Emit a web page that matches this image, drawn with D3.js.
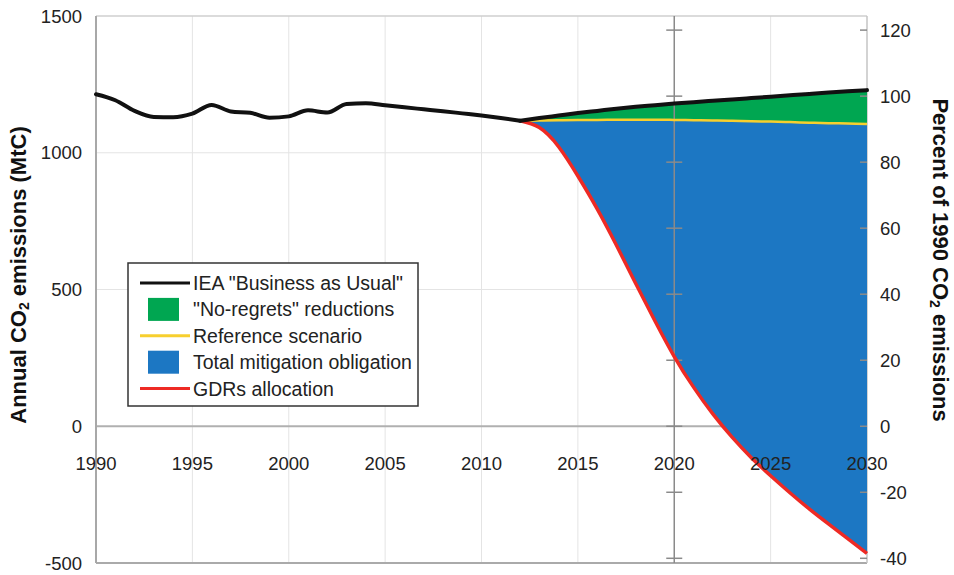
<!DOCTYPE html>
<html>
<head>
<meta charset="utf-8">
<script src="https://cdn.jsdelivr.net/npm/d3@7"></script>
<style>
  html, body { margin: 0; padding: 0; background: #fff; }
  svg { display: block; font-family: "Liberation Sans", Arial, Helvetica, sans-serif; }
</style>
</head>
<body>
<svg id="chart" width="954" height="575"></svg>
<script>
// ---- Data ----
const histYears = d3.range(1990, 2031);               // 1990..2030
const bauValues = [1214, 1192, 1153, 1131, 1130, 1143, 1175, 1151, 1146, 1128, 1133, 1155, 1147, 1178, 1181, 1174,
                   1166, 1159, 1152, 1144, 1136, 1127, 1117,
                   1127, 1136, 1145, 1153, 1161, 1168, 1174, 1180, 1185, 1190, 1195, 1200, 1205, 1210, 1215, 1220, 1225, 1229];
const projYears = d3.range(2012, 2031);                // 2012..2030
const referenceValues = [1117, 1118, 1119, 1120, 1120, 1121, 1121, 1121, 1120, 1119, 1118, 1117, 1115, 1114, 1112, 1110, 1108, 1107, 1105];
const gdrValues = [1117, 1092, 1022, 915, 795, 662, 522, 385, 255, 143, 45, -40, -115, -181, -243, -302, -357, -411, -465];
const pctBase = 1207;                                  // 100% of 1990 emissions (MtC)
const xTicks = [1990, 1995, 2000, 2005, 2010, 2015, 2020, 2025, 2030];
const yTicks = [-500, 0, 500, 1000, 1500];
const pctTicks = [-40, -20, 0, 20, 40, 60, 80, 100, 120];
const legendItems = [
  {label: 'IEA "Business as Usual"', type: "line", color: "#111"},
  {label: '"No-regrets" reductions', type: "box", color: "#00A651"},
  {label: "Reference scenario", type: "line", color: "#F7CF2E"},
  {label: "Total mitigation obligation", type: "box", color: "#1C77C3"},
  {label: "GDRs allocation", type: "line", color: "#EE2A24"}
];

// ---- Layout ----
const W = 954, H = 575;
const m = {left: 96, right: 87, top: 16, bottom: 12};
const x = d3.scaleLinear().domain([1990, 2030]).range([m.left, W - m.right]);
const y = d3.scaleLinear().domain([-500, 1500]).range([H - m.bottom, m.top]);
const yPct = d3.scaleLinear().domain([-500 / pctBase * 100, 1500 / pctBase * 100]).range([H - m.bottom, m.top]);

const svg = d3.select("#chart");
const textColor = "#222";

// gridlines
const g = svg.append("g");
g.selectAll("line.vg").data(xTicks.filter(d => d > 1990 && d < 2030 && d !== 2020)).enter()
  .append("line").attr("x1", d => x(d)).attr("x2", d => x(d))
  .attr("y1", y(1500)).attr("y2", y(-500)).attr("stroke", "#e4e4e4").attr("stroke-width", 1);
g.selectAll("line.hg").data([500, 1000]).enter()
  .append("line").attr("x1", x(1990)).attr("x2", x(2030))
  .attr("y1", d => y(d)).attr("y2", d => y(d)).attr("stroke", "#e4e4e4").attr("stroke-width", 1);
g.append("line").attr("x1", x(1990)).attr("x2", x(2030)).attr("y1", y(0)).attr("y2", y(0))
  .attr("stroke", "#b0b0b0").attr("stroke-width", 2);
// frame
g.append("line").attr("x1", x(1990)).attr("x2", x(2030)).attr("y1", y(1500)).attr("y2", y(1500)).attr("stroke", "#cfcfcf").attr("stroke-width", 1.5);
g.append("line").attr("x1", x(1990)).attr("x2", x(2030)).attr("y1", y(-500)).attr("y2", y(-500)).attr("stroke", "#aaa").attr("stroke-width", 2);
g.append("line").attr("x1", x(2030)).attr("x2", x(2030)).attr("y1", y(1500)).attr("y2", y(-500)).attr("stroke", "#c4c4c4").attr("stroke-width", 1.5);

// ---- Areas ----
const proj = projYears.map((yr, i) => ({year: yr, bau: bauValues[histYears.indexOf(yr)], ref: referenceValues[i], gdr: gdrValues[i]}));
const hist = histYears.filter(yr => yr <= 2012).map(yr => ({year: yr, v: bauValues[histYears.indexOf(yr)]}));
const curveP = d3.curveNatural;
svg.append("path").datum(proj)
  .attr("d", d3.area().curve(curveP).x(d => x(d.year)).y0(d => y(d.ref)).y1(d => y(d.bau)))
  .attr("fill", "#00A651");
svg.append("path").datum(proj)
  .attr("d", d3.area().curve(curveP).x(d => x(d.year)).y0(d => y(d.gdr)).y1(d => y(d.ref)))
  .attr("fill", "#1C77C3");

// left axis line (drawn after fills)
svg.append("line").attr("x1", x(1990)).attr("x2", x(1990)).attr("y1", y(1500)).attr("y2", y(-500)).attr("stroke", "#a8a8a8").attr("stroke-width", 2);

// duplicate axis at 2020 with cross ticks
svg.append("line").attr("x1", x(2020)).attr("x2", x(2020)).attr("y1", y(1500)).attr("y2", y(-500)).attr("stroke", "#8a8a8a").attr("stroke-width", 1.5);
svg.selectAll("line.ct").data(pctTicks).enter().append("line")
  .attr("x1", x(2020) - 8).attr("x2", x(2020) + 8)
  .attr("y1", d => yPct(d)).attr("y2", d => yPct(d))
  .attr("stroke", "#8a8a8a").attr("stroke-width", 1.5);
// right-edge inside ticks
svg.selectAll("line.rt").data(pctTicks).enter().append("line")
  .attr("x1", x(2030) - 7).attr("x2", x(2030))
  .attr("y1", d => yPct(d)).attr("y2", d => yPct(d))
  .attr("stroke", "#8a8a8a").attr("stroke-width", 1.5);

// ---- Lines ----
svg.append("path").datum(proj)
  .attr("d", d3.line().curve(curveP).x(d => x(d.year)).y(d => y(d.ref)))
  .attr("fill", "none").attr("stroke", "#F7CF2E").attr("stroke-width", 2.5);
svg.append("path").datum(proj)
  .attr("d", d3.line().curve(curveP).x(d => x(d.year)).y(d => y(d.gdr)))
  .attr("fill", "none").attr("stroke", "#EE2A24").attr("stroke-width", 3.5);
svg.append("path").datum(hist)
  .attr("d", d3.line().curve(d3.curveMonotoneX).x(d => x(d.year)).y(d => y(d.v)))
  .attr("fill", "none").attr("stroke", "#111").attr("stroke-width", 4).attr("stroke-linejoin", "round").attr("stroke-linecap", "round");
svg.append("path").datum(proj)
  .attr("d", d3.line().curve(curveP).x(d => x(d.year)).y(d => y(d.bau)))
  .attr("fill", "none").attr("stroke", "#111").attr("stroke-width", 4).attr("stroke-linejoin", "round").attr("stroke-linecap", "round");

// ---- Axes labels ----
const fs = 18.5;
svg.append("g").selectAll("text").data(yTicks).enter().append("text")
  .attr("x", 82).attr("y", d => y(d)).attr("text-anchor", "end").attr("dominant-baseline", "central")
  .attr("font-size", fs).attr("fill", textColor).text(d => d);
svg.append("g").selectAll("text").data(pctTicks).enter().append("text")
  .attr("x", 880).attr("y", d => yPct(d)).attr("text-anchor", "start").attr("dominant-baseline", "central")
  .attr("font-size", fs).attr("fill", textColor).text(d => d);
svg.append("g").selectAll("text").data(xTicks).enter().append("text")
  .attr("x", d => x(d)).attr("y", 463).attr("text-anchor", "middle").attr("dominant-baseline", "central")
  .attr("font-size", fs).attr("fill", textColor).text(d => d);

// axis titles
const lt = svg.append("text").attr("transform", "translate(18,275) rotate(-90)")
  .attr("text-anchor", "middle").attr("dominant-baseline", "central")
  .attr("font-size", 22).attr("font-weight", "bold").attr("fill", "#111");
lt.append("tspan").text("Annual CO");
lt.append("tspan").attr("font-size", 14).attr("dy", 6).text("2");
lt.append("tspan").attr("dy", -6).text(" emissions (MtC)");

const rt = svg.append("text").attr("transform", "translate(941,260) rotate(90)")
  .attr("text-anchor", "middle").attr("dominant-baseline", "central")
  .attr("font-size", 22).attr("font-weight", "bold").attr("fill", "#111");
rt.append("tspan").text("Percent of 1990 CO");
rt.append("tspan").attr("font-size", 14).attr("dy", 6).text("2");
rt.append("tspan").attr("dy", -6).text(" emissions");

// ---- Legend ----
const lg = svg.append("g");
lg.append("rect").attr("x", 128).attr("y", 263).attr("width", 290).attr("height", 143)
  .attr("fill", "#fff").attr("stroke", "#333").attr("stroke-width", 1.5);
const rowY = i => 283 + i * 26.4;
legendItems.forEach((d, i) => {
  if (d.type === "line") {
    lg.append("line").attr("x1", 140).attr("x2", 190).attr("y1", rowY(i)).attr("y2", rowY(i))
      .attr("stroke", d.color).attr("stroke-width", 3);
  } else {
    lg.append("rect").attr("x", 148).attr("y", rowY(i) - 11.5).attr("width", 31).attr("height", 23).attr("fill", d.color);
  }
  lg.append("text").attr("x", 193).attr("y", rowY(i)).attr("dominant-baseline", "central")
    .attr("font-size", 19.5).attr("fill", textColor).text(d.label);
});
</script>
</body>
</html>
